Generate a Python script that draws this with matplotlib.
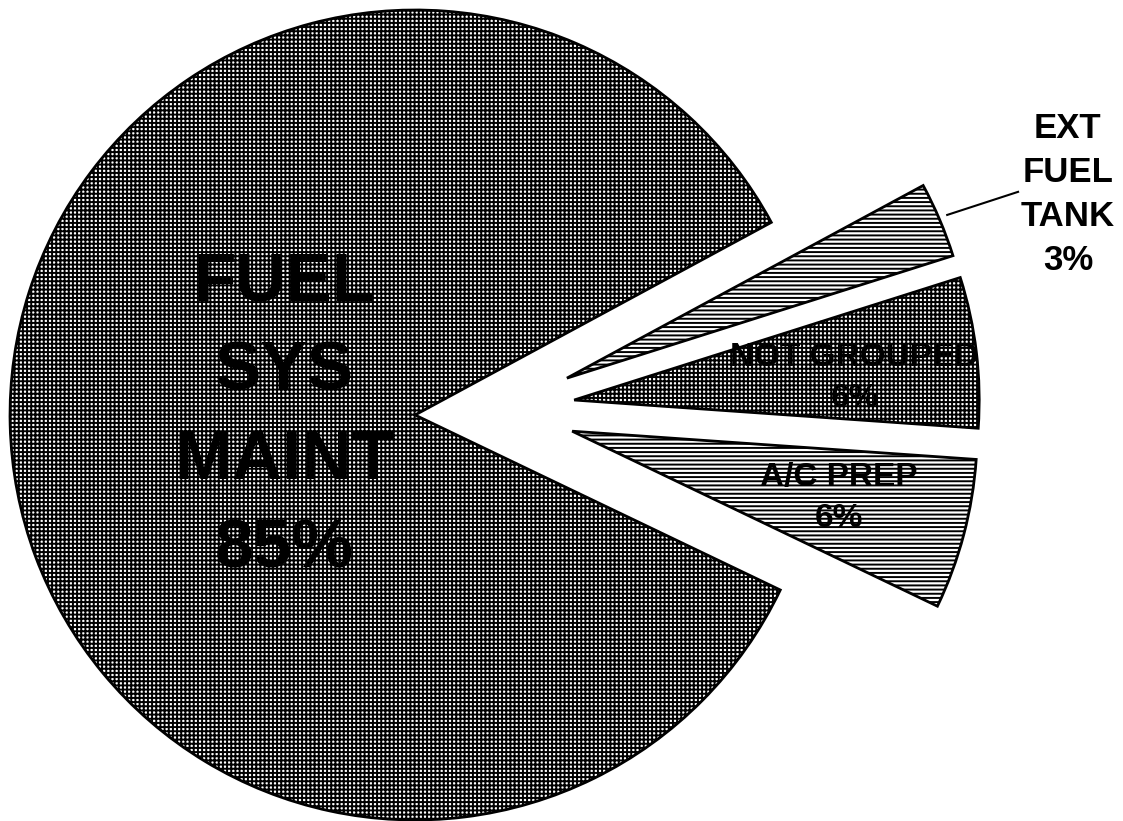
import matplotlib.pyplot as plt

# slice data, counter-clockwise from the lower edge of the exploded group
names = ["A/C PREP", "NOT GROUPED", "EXT\nFUEL\nTANK", "FUEL\nSYS\nMAINT"]
shares = [6, 6, 3, 85]
hatches = ["----", "++++", "----", "++++"]

plt.rcParams["font.family"] = ["Liberation Sans", "DejaVu Sans"]
plt.rcParams["hatch.linewidth"] = 1.4

fig = plt.figure(figsize=(11.23, 8.21), dpi=100)
ax = fig.add_axes([0, 0, 1, 1])

wedges, _ = ax.pie(shares, startangle=-25.6, counterclock=True, radius=1.0,
                   colors=["white"] * len(shares),
                   wedgeprops=dict(edgecolor="black", linewidth=2))

# the three small slices are pulled out to the right as a group
shifts = [(0.388, -0.040), (0.393, 0.037), (0.375, 0.091), (0.0, 0.0)]
for w, h, c in zip(wedges, hatches, shifts):
    w.set_hatch(h)
    w.set_center(c)

pct = [f"{s}%" for s in shares]

ax.text(-0.323, -0.003, f"{names[3]}\n{pct[3]}", ha="center", va="center",
        fontsize=50, fontweight="bold", linespacing=1.5, color="black")
ax.text(1.085, 0.091, f"{names[1]}\n{pct[1]}", ha="center", va="center",
        fontsize=24, fontweight="bold", linespacing=1.43, color="black")
ax.text(1.047, -0.205, f"{names[0]}\n{pct[0]}", ha="center", va="center",
        fontsize=24, fontweight="bold", linespacing=1.43, color="black")
ax.text(1.612, 0.545, f"{names[2]}\n{pct[2]}", ha="center", va="center",
        fontsize=25, fontweight="bold", linespacing=1.42, color="black")
ax.plot([1.314, 1.489], [0.494, 0.551], color="black", lw=1.5)

ax.set_xlim(-1.0247, 1.748)
ax.set_ylim(-1.0025, 1.0247)
ax.set_aspect("equal")
ax.axis("off")

fig.savefig("out.png", dpi=100, facecolor="white")
